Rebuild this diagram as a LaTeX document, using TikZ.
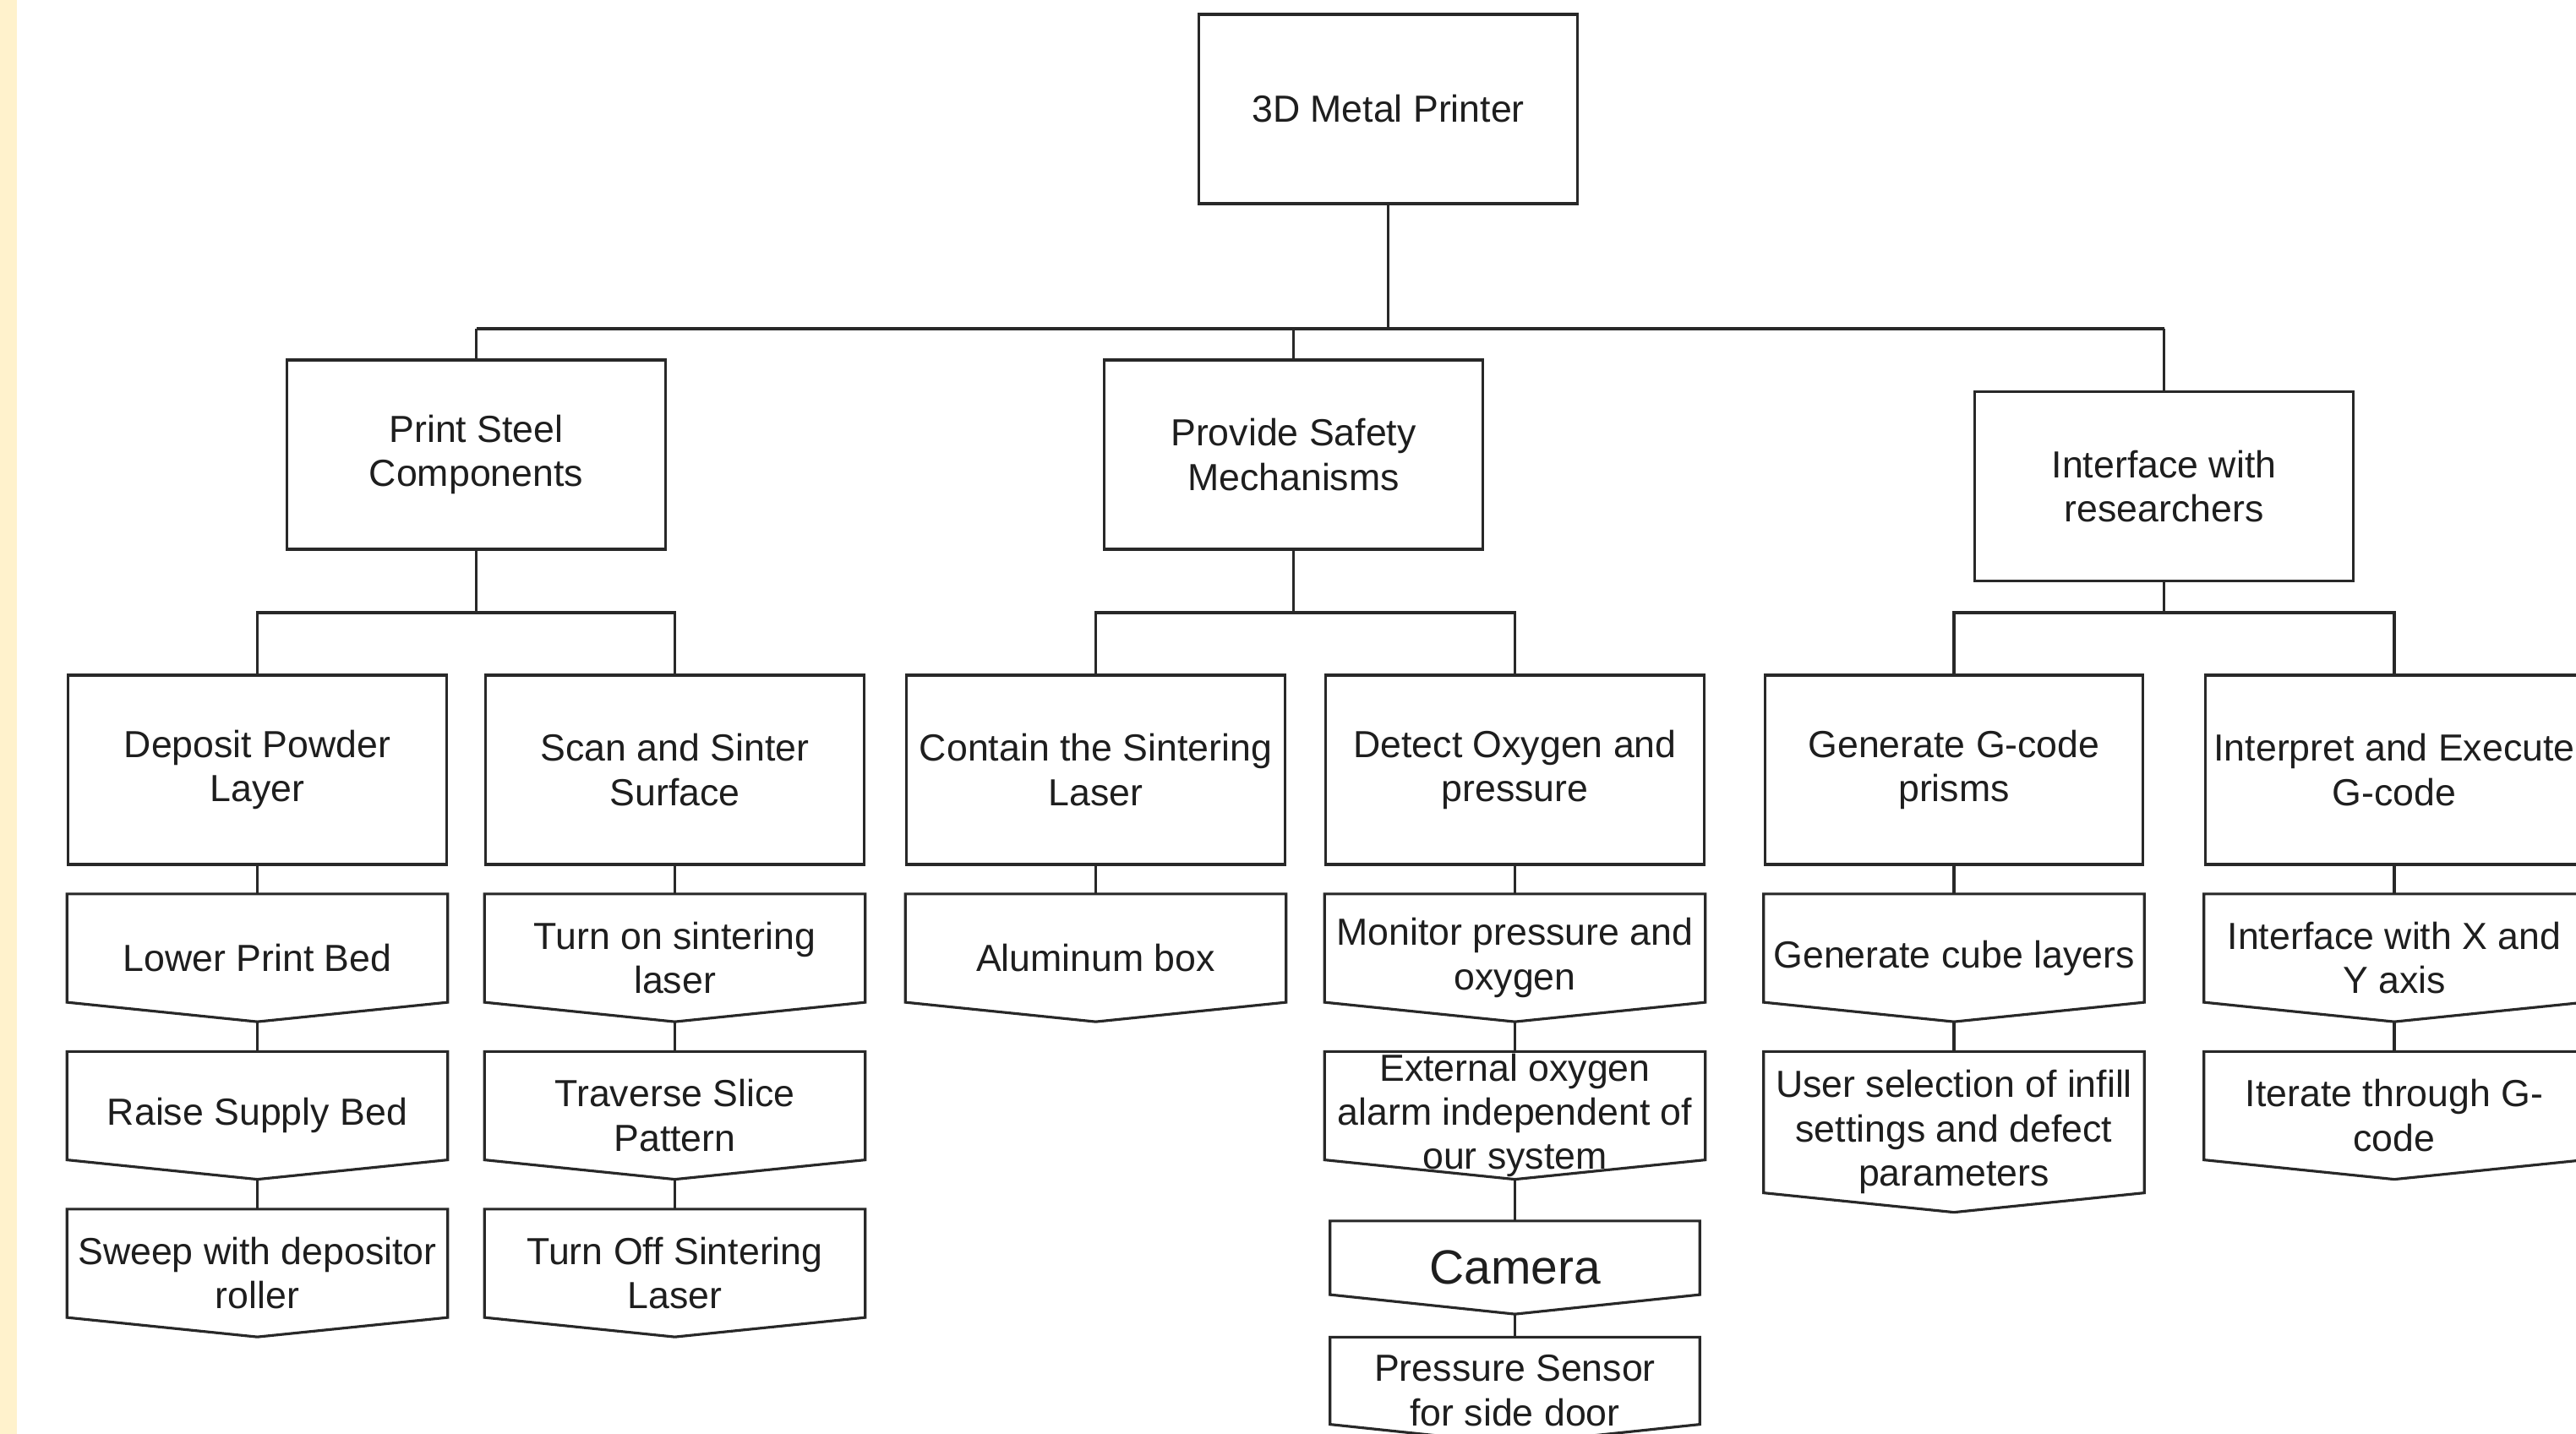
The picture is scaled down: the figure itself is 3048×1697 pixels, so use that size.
\documentclass[tikz,border=0pt]{standalone}
\usepackage{fontspec}
\setmainfont{Liberation Sans}
\usepackage{xcolor}
\usepackage{tikz}
\definecolor{cream}{RGB}{255,242,204}
\definecolor{linec}{RGB}{40,40,40}
\definecolor{textc}{RGB}{30,30,30}
\begin{document}
\begin{tikzpicture}[x=0.01cm,y=-0.01cm,line width=0.9pt,
  every node/.style={font=\fontsize{12.7pt}{14.9pt}\selectfont,text=textc,inner sep=0pt,align=center},
  fbox/.style={draw=linec,minimum width=4.47cm,minimum height=2.24cm},
  stepbox/.style={minimum width=4.47cm,minimum height=1.48cm},
  conn/.style={draw=linec}]
  \useasboundingbox (0,0) rectangle (3048,1697);
  \clip (0,0) rectangle (3048,1697);
  \fill[cream] (0,0) rectangle (20,1697);
  \coordinate (topbus) at (0,389);
  \coordinate (midbus) at (0,725);
  \node[fbox] (printer) at (1642.5,129) {3D Metal Printer};
  \node[fbox] (steel)  at (563.5,538)  {Print Steel\\Components};
  \node[fbox] (safety) at (1530.5,538) {Provide Safety\\Mechanisms};
  \node[fbox] (iface)  at (2560.5,575.5) {Interface with\\researchers};
  \node[fbox] (deposit) at (304.5,911)  {Deposit Powder\\Layer};
  \node[fbox] (scan)    at (798.5,911)  {Scan and Sinter\\Surface};
  \node[fbox] (contain) at (1296.5,911) {Contain the Sintering\\Laser};
  \node[fbox] (detect)  at (1792.5,911) {Detect Oxygen and\\pressure};
  \node[fbox] (gcode)   at (2312,911)   {Generate G-code\\prisms};
  \node[fbox] (interp)  at (2833,911)   {Interpret and Execute\\G-code};
  \node[stepbox] (lower)    at (304.5,1133.5)  {Lower Print Bed};
  \node[stepbox] (raise)    at (304.5,1320)    {Raise Supply Bed};
  \node[stepbox] (sweep)    at (304.5,1506.5)  {Sweep with depositor\\roller};
  \node[stepbox] (turnon)   at (798.5,1133.5)  {Turn on sintering\\laser};
  \node[stepbox] (traverse) at (798.5,1320)    {Traverse Slice\\Pattern};
  \node[stepbox] (turnoff)  at (798.5,1506.5)  {Turn Off Sintering\\Laser};
  \node[stepbox] (alum)     at (1296.5,1133.5) {Aluminum box};
  \node[stepbox] (monitor)  at (1792.5,1133.5) {Monitor pressure and\\oxygen};
  \node[stepbox] (external) at (1792.5,1320)   {External oxygen\\alarm independent of\\our system};
  \node[stepbox,minimum width=4.34cm,minimum height=1.07cm,
        font=\fontsize{16.2pt}{19pt}\selectfont] (camera) at (1792.5,1500) {Camera};
  \node[stepbox,minimum width=4.34cm,minimum height=1.23cm] (pressure) at (1792.5,1645.5) {Pressure Sensor\\for side door};
  \node[stepbox] (cube)     at (2312,1133.5)   {Generate cube layers};
  \node[stepbox,minimum height=1.87cm] (user) at (2312,1339.5) {User selection of infill\\settings and defect\\parameters};
  \node[stepbox] (xy)       at (2833,1133.5)   {Interface with X and\\Y axis};
  \node[stepbox] (iterate)  at (2833,1320)     {Iterate through G-\\code};
  \foreach \n in {lower,raise,sweep,turnon,traverse,turnoff,alum,monitor,external,camera,pressure,cube,user,xy,iterate}
    \draw[conn] (\n.north west) -- (\n.north east) -- ([yshift=0.23cm]\n.south east)
      -- (\n.south) -- ([yshift=0.23cm]\n.south west) -- cycle;
  \draw[conn] (printer.south) -- (printer.south |- topbus);
  \draw[conn] (steel.north |- topbus) -- (iface.north |- topbus);
  \foreach \c in {steel,safety,iface}
    \draw[conn] (\c.north |- topbus) -- (\c.north);
  \foreach \p/\a/\b in {steel/deposit/scan,safety/contain/detect,iface/gcode/interp}{
    \draw[conn] (\p.south) -- (\p.south |- midbus);
    \draw[conn] (\a.north) |- (\p.south |- midbus) -| (\b.north);
  }
  \foreach \a/\b in {deposit/lower,lower/raise,raise/sweep,scan/turnon,turnon/traverse,
    traverse/turnoff,contain/alum,detect/monitor,monitor/external,external/camera,
    camera/pressure,gcode/cube,cube/user,interp/xy,xy/iterate}
    \draw[conn] (\a.south) -- (\b.north);
\end{tikzpicture}
\end{document}
